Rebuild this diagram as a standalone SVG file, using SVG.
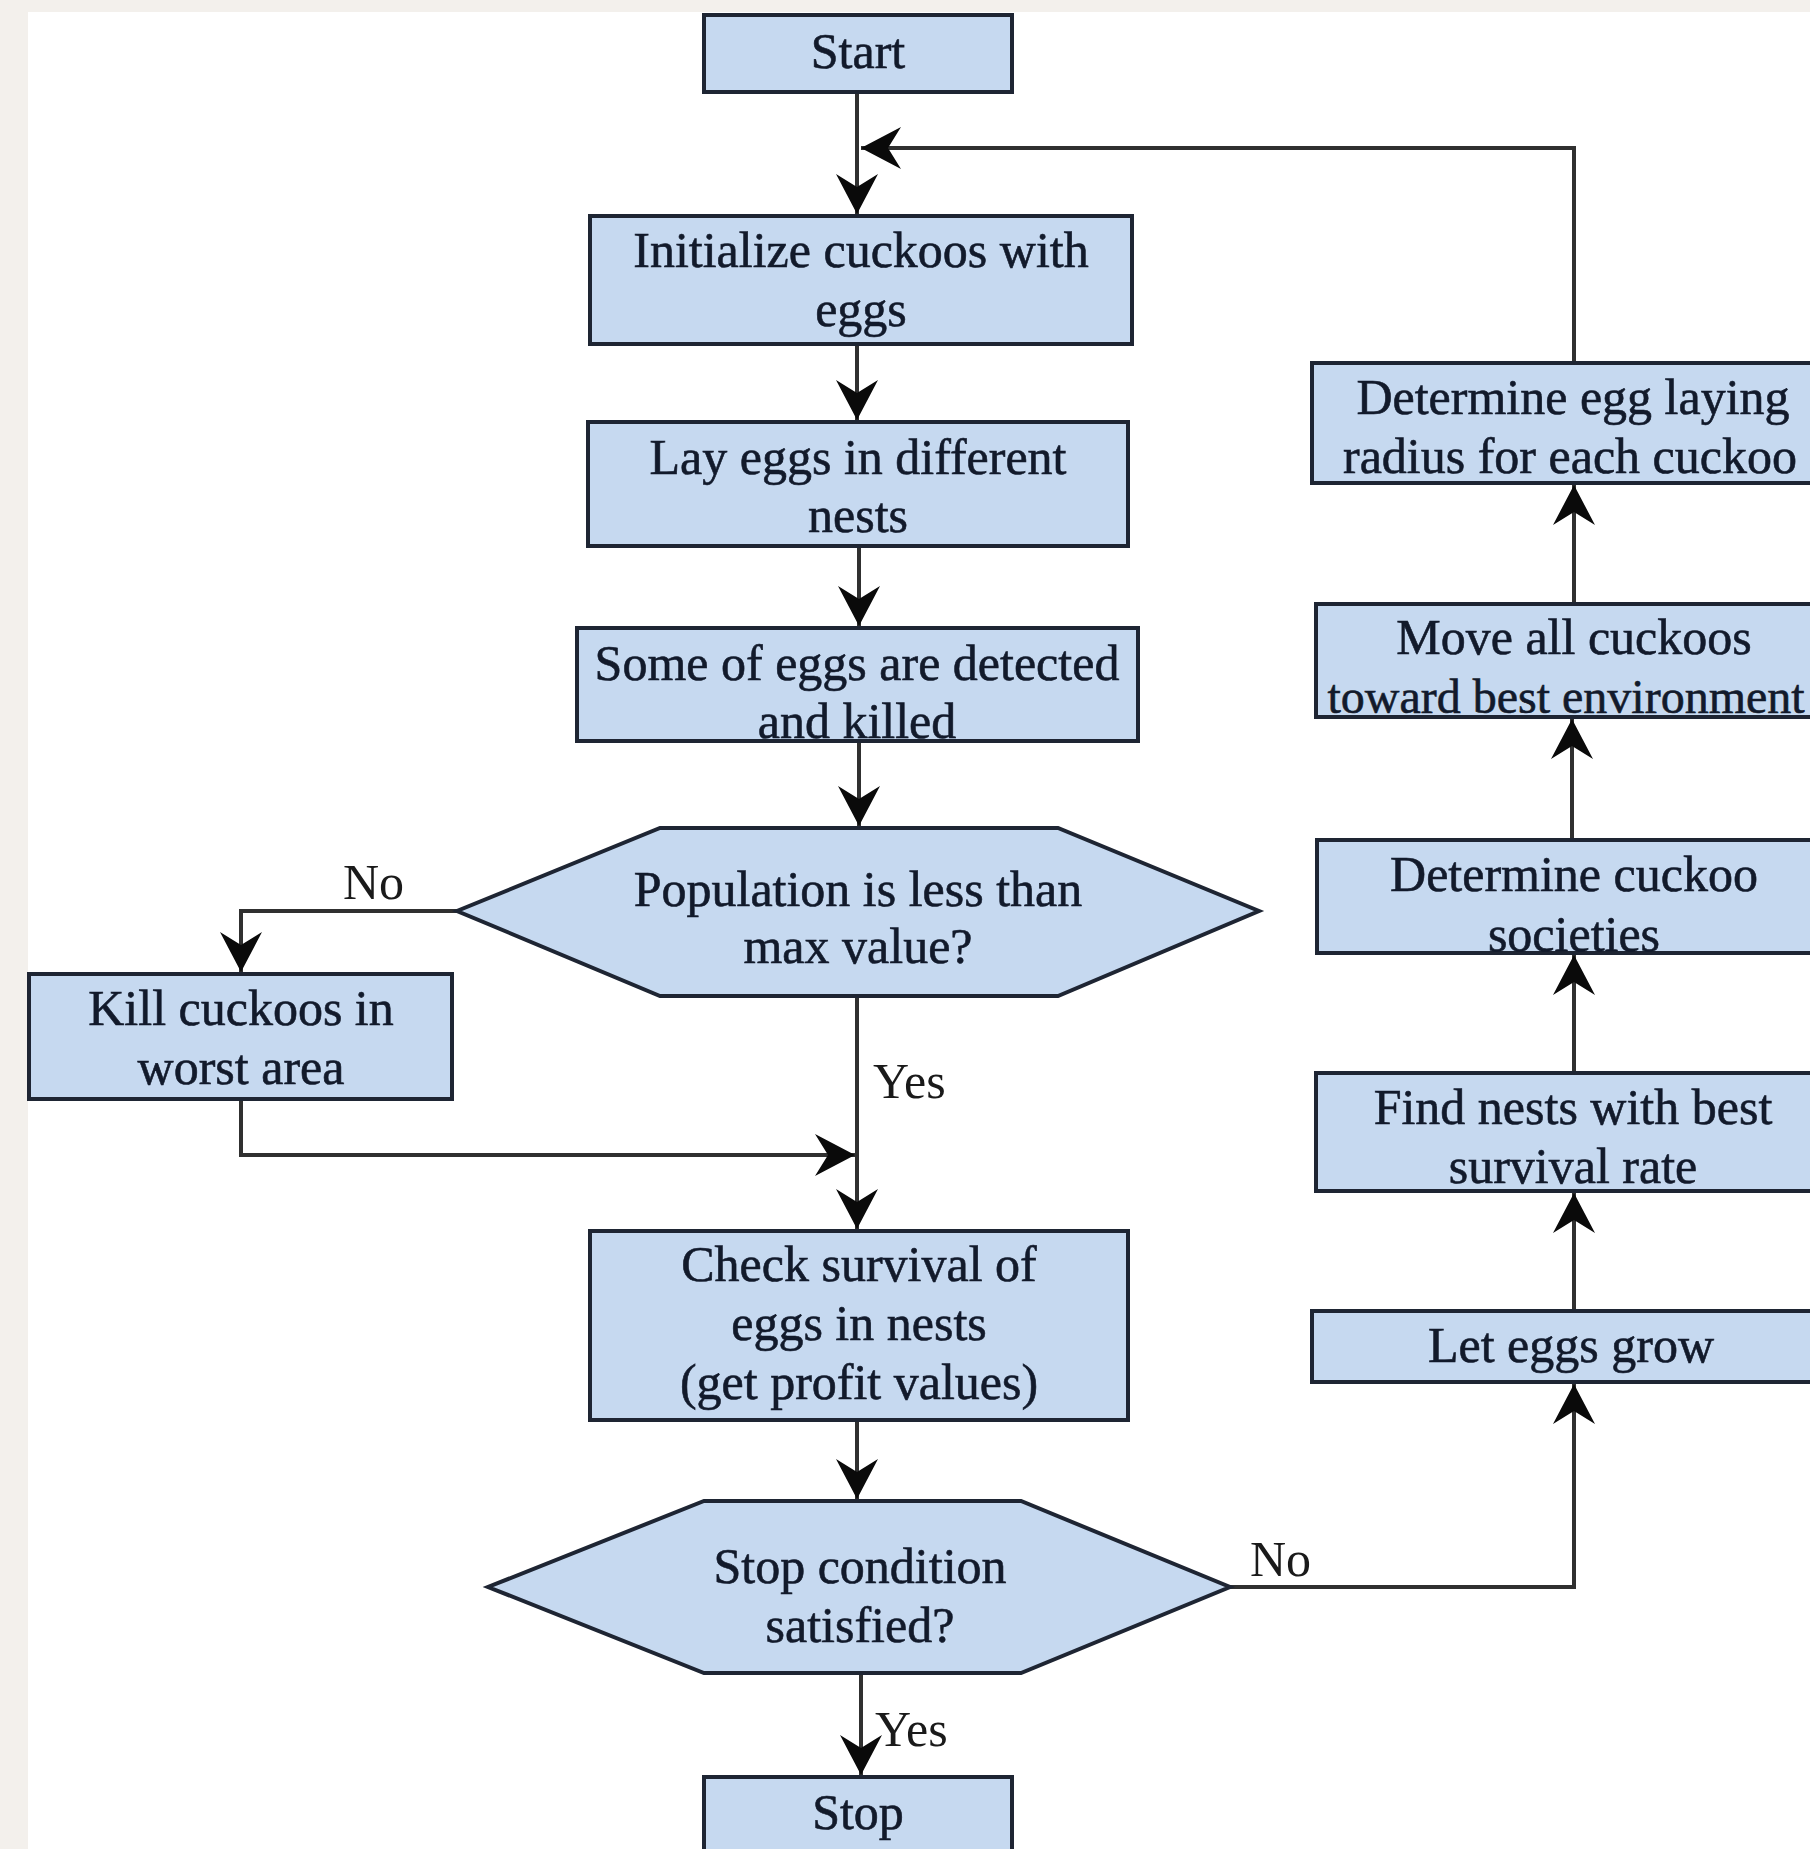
<svg xmlns="http://www.w3.org/2000/svg" width="1810" height="1849" viewBox="0 0 1810 1849">
  <style>
    .box { fill: #c6d9f0; stroke: #1e2533; stroke-width: 4; }
    .t { font-family: "Liberation Serif", "Times New Roman", serif; font-size: 50px; fill: #121a2b; text-anchor: middle; stroke: #121a2b; stroke-width: 0.6; }
    .lbl { font-family: "Liberation Serif", "Times New Roman", serif; font-size: 50px; fill: #1a1a1a; }
    .ln { fill: none; stroke: #303030; stroke-width: 4; }
  </style>
  <defs>
    <marker id="ah" markerUnits="userSpaceOnUse" markerWidth="44" markerHeight="48" viewBox="-42 -24 44 48" refX="0" refY="0" orient="auto">
      <path d="M0,0 L-40,-21 L-27,0 L-40,21 Z" fill="#0a0a0a"/>
    </marker>
  </defs>
  <rect x="0" y="0" width="1810" height="1849" fill="#f3f0ec"/>
  <rect x="28" y="12" width="1782" height="1837" fill="#ffffff"/>

  <g id="connectors">
    <path class="ln" d="M857,92 L857,214" marker-end="url(#ah)"/>
    <path class="ln" d="M1574,363 L1574,148 L861,148" marker-end="url(#ah)"/>
    <path class="ln" d="M857,344 L857,420" marker-end="url(#ah)"/>
    <path class="ln" d="M859,546 L859,626" marker-end="url(#ah)"/>
    <path class="ln" d="M859,741 L859,826" marker-end="url(#ah)"/>
    <path class="ln" d="M457,911 L241,911 L241,972" marker-end="url(#ah)"/>
    <path class="ln" d="M241,1099 L241,1155 L855,1155" marker-end="url(#ah)"/>
    <path class="ln" d="M857,996 L857,1229" marker-end="url(#ah)"/>
    <path class="ln" d="M857,1420 L857,1499" marker-end="url(#ah)"/>
    <path class="ln" d="M861,1673 L861,1775" marker-end="url(#ah)"/>
    <path class="ln" d="M1230,1587 L1574,1587 L1574,1384" marker-end="url(#ah)"/>
    <path class="ln" d="M1574,1311 L1574,1193" marker-end="url(#ah)"/>
    <path class="ln" d="M1574,1073 L1574,955" marker-end="url(#ah)"/>
    <path class="ln" d="M1572,840 L1572,719" marker-end="url(#ah)"/>
    <path class="ln" d="M1574,604 L1574,485" marker-end="url(#ah)"/>
  </g>

  <g id="start">
    <rect class="box" x="704" y="15" width="308" height="77"/>
    <text class="t" x="858" y="68">Start</text>
  </g>
  <g id="init">
    <rect class="box" x="590" y="216" width="542" height="128"/>
    <text class="t" x="861" y="267">Initialize cuckoos with</text>
    <text class="t" x="861" y="326">eggs</text>
  </g>
  <g id="lay">
    <rect class="box" x="588" y="422" width="540" height="124"/>
    <text class="t" x="858" y="474">Lay eggs in different</text>
    <text class="t" x="858" y="532">nests</text>
  </g>
  <g id="detected">
    <rect class="box" x="577" y="628" width="561" height="113"/>
    <text class="t" x="857" y="680">Some of eggs are detected</text>
    <text class="t" x="857" y="738">and killed</text>
  </g>
  <g id="population">
    <polygon class="box" points="660,828 1058,828 1259,911 1058,996 660,996 457,911"/>
    <text class="t" x="858" y="906">Population is less than</text>
    <text class="t" x="858" y="963">max value?</text>
  </g>
  <g id="kill">
    <rect class="box" x="29" y="974" width="423" height="125"/>
    <text class="t" x="241" y="1025">Kill cuckoos in</text>
    <text class="t" x="241" y="1084">worst area</text>
  </g>
  <g id="check">
    <rect class="box" x="590" y="1231" width="538" height="189"/>
    <text class="t" x="859" y="1281">Check survival of</text>
    <text class="t" x="859" y="1340">eggs in nests</text>
    <text class="t" x="859" y="1399">(get profit values)</text>
  </g>
  <g id="stopcond">
    <polygon class="box" points="704,1501 1021,1501 1230,1587 1021,1673 704,1673 488,1587"/>
    <text class="t" x="860" y="1583">Stop condition</text>
    <text class="t" x="860" y="1642">satisfied?</text>
  </g>
  <g id="stop">
    <rect class="box" x="704" y="1777" width="308" height="90"/>
    <text class="t" x="858" y="1829">Stop</text>
  </g>
  <g id="radius">
    <rect class="box" x="1312" y="363" width="520" height="120"/>
    <text class="t" x="1573" y="414">Determine egg laying</text>
    <text class="t" x="1570" y="473">radius for each cuckoo</text>
  </g>
  <g id="move">
    <rect class="box" x="1316" y="604" width="516" height="113"/>
    <text class="t" x="1574" y="654">Move all cuckoos</text>
    <text class="t" x="1566" y="713" style="font-size:48px">toward best environment</text>
  </g>
  <g id="societies">
    <rect class="box" x="1317" y="840" width="515" height="113"/>
    <text class="t" x="1574" y="891">Determine cuckoo</text>
    <text class="t" x="1574" y="951">societies</text>
  </g>
  <g id="findnests">
    <rect class="box" x="1316" y="1073" width="516" height="118"/>
    <text class="t" x="1573" y="1124">Find nests with best</text>
    <text class="t" x="1573" y="1183">survival rate</text>
  </g>
  <g id="grow">
    <rect class="box" x="1312" y="1311" width="520" height="71"/>
    <text class="t" x="1571" y="1362">Let eggs grow</text>
  </g>

  <g id="labels">
    <text class="lbl" x="343" y="899">No</text>
    <text class="lbl" x="873" y="1098">Yes</text>
    <text class="lbl" x="1250" y="1576">No</text>
    <text class="lbl" x="875" y="1746">Yes</text>
  </g>
</svg>
